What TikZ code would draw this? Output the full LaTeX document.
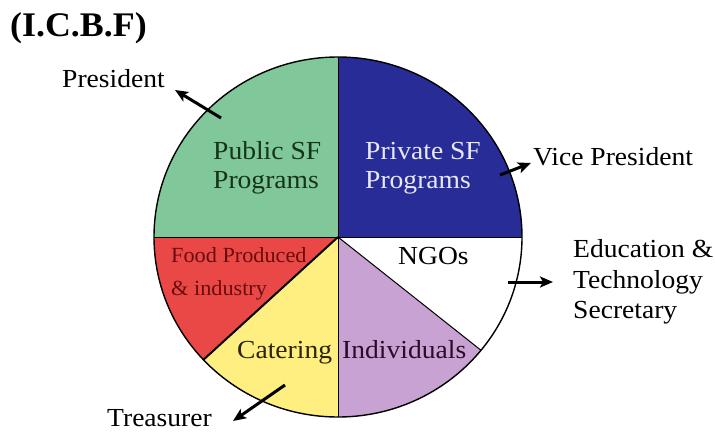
\documentclass[tikz,border=0pt]{standalone}
\usepackage{fontspec}
\setmainfont{Liberation Serif}
\usetikzlibrary{arrows.meta}
\definecolor{pgreen}{RGB}{128,200,154}
\definecolor{pblue}{RGB}{40,44,150}
\definecolor{pred}{RGB}{234,72,70}
\definecolor{pyellow}{RGB}{255,238,128}
\definecolor{ppurple}{RGB}{200,162,210}
\definecolor{tgreen}{RGB}{22,52,26}
\definecolor{tlav}{RGB}{232,232,248}
\definecolor{tred}{RGB}{105,12,12}
\definecolor{tyel}{RGB}{45,35,5}
\definecolor{tpur}{RGB}{40,12,42}
\newcommand{\sx}[1]{\scalebox{1.06}[1]{#1}}
\newcommand{\sxf}[1]{\scalebox{1.03}[1]{#1}}
\newcommand{\sxt}[1]{\scalebox{1.04}[1]{#1}}
\tikzset{
  lab/.style={anchor=base west, inner sep=0pt, font=\fontsize{26}{29}\selectfont},
  flab/.style={anchor=base west, inner sep=0pt, font=\fontsize{21.6}{24}\selectfont, text=tred},
  arr/.style={line width=3pt, -{Stealth[length=13pt,width=11pt,inset=3pt]}},
  divider/.style={line width=1pt, draw=black},
  sector/.style={x radius=184, y radius=180}
}
\begin{document}
\begin{tikzpicture}[x=1pt,y=-1pt]
\useasboundingbox (0,0) rectangle (715,433);
\fill[white] (0,0) rectangle (715,433);
\begin{scope}[shift={(338,237)}]
  \coordinate (c) at (0,0);
  \coordinate (top) at (270:184 and 180);
  \coordinate (bot) at (90:184 and 180);
  \coordinate (lft) at (180:184 and 180);
  \coordinate (rgt) at (0:184 and 180);
  \coordinate (wp) at (39:184 and 180);
  \coordinate (ryl) at (137:184 and 180);
  \fill[pblue] (c) -- (top) arc[start angle=270,end angle=360,sector] -- cycle;
  \fill[white] (c) -- (rgt) arc[start angle=0,end angle=39,sector] -- cycle;
  \fill[ppurple] (c) -- (wp) arc[start angle=39,end angle=90,sector] -- cycle;
  \fill[pyellow] (c) -- (bot) arc[start angle=90,end angle=137,sector] -- cycle;
  \fill[pred] (c) -- (ryl) arc[start angle=137,end angle=180,sector] -- cycle;
  \fill[pgreen] (c) -- (lft) arc[start angle=180,end angle=270,sector] -- cycle;
  \draw[divider] (top) -- (bot);
  \draw[divider] (lft) -- (rgt);
  \draw[divider] (c) -- (wp);
  \draw[line width=2pt] (c) -- (ryl);
  \draw[line width=1.4pt] (c) ellipse[x radius=184,y radius=180];
\end{scope}
% title
\node[anchor=base west, inner sep=0pt, font=\fontsize{34.5}{38}\selectfont\bfseries] (title) at (10,37) {\sxt{(I.C.B.F)}};
% outside labels
\node[lab] (pres) at (62,88) {\sx{President}};
\node[lab] (vice) at (533,165) {\sx{Vice President}};
\node[lab] (edu1) at (573,257) {\sx{Education \&}};
\node[lab] (edu2) at (573,288) {\sx{Technology}};
\node[lab] (edu3) at (573,318) {\sx{Secretary}};
\node[lab] (treas) at (107,426) {\sx{Treasurer}};
% sector labels
\node[lab, text=tgreen] (pub1) at (213,160) {\sx{Public SF}};
\node[lab, text=tgreen] (pub2) at (213,189) {\sx{Programs}};
\node[lab, text=tlav] (pri1) at (365,160) {\sx{Private SF}};
\node[lab, text=tlav] (pri2) at (365,189) {\sx{Programs}};
\node[lab] (ngo) at (398,264) {\sx{NGOs}};
\node[flab] (food1) at (171,262) {\sxf{Food Produced}};
\node[flab] (food2) at (171,295) {\sxf{\& industry}};
\node[lab, text=tyel] (cat) at (237,358) {\sx{Catering}};
\node[lab, text=tpur] (ind) at (342,358) {\sx{Individuals}};
% arrows
\coordinate (presA) at (221,118);
\coordinate (presB) at (175,90);
\coordinate (viceA) at (500,175);
\coordinate (viceB) at (531,163);
\coordinate (eduA) at (508,282);
\coordinate (eduB) at (553,282);
\coordinate (treA) at (285,385);
\coordinate (treB) at (233,421);
\draw[arr] (presA) -- (presB);
\draw[arr] (viceA) -- (viceB);
\draw[arr] (eduA) -- (eduB);
\draw[arr] (treA) -- (treB);
\end{tikzpicture}
\end{document}
